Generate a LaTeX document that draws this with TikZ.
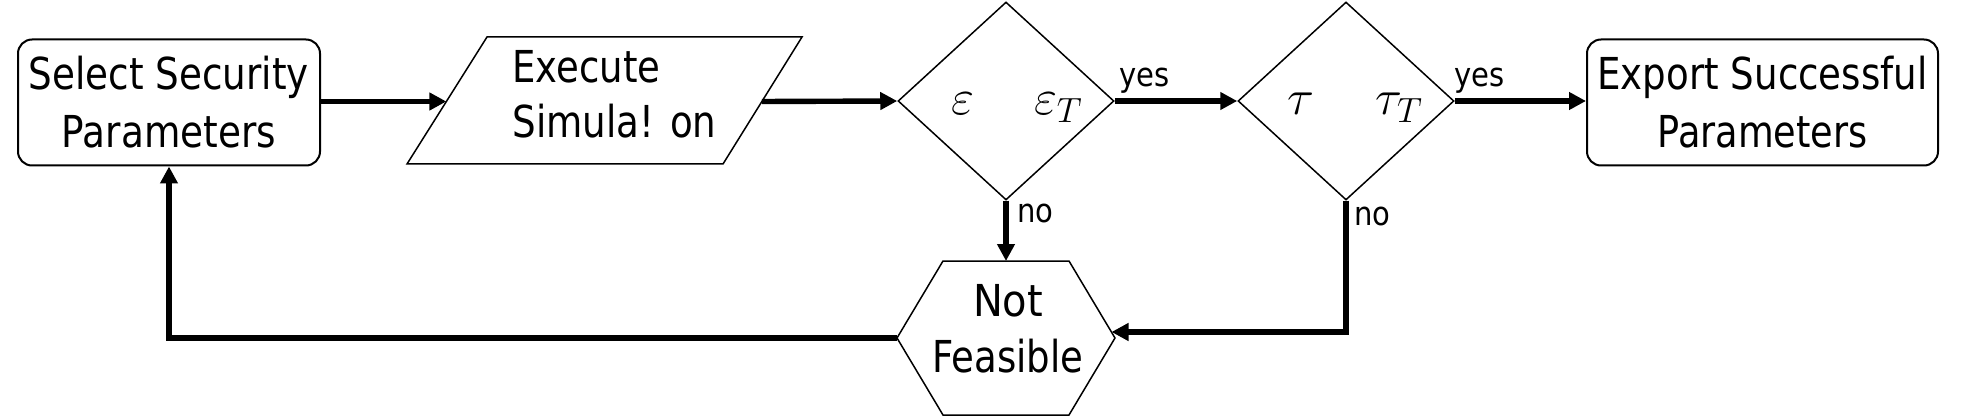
\documentclass[tikz,border=0pt]{standalone}
\usepackage{fix-cm}
\usepackage{fontspec}
\usepackage{graphicx}
\setmainfont{DejaVu Sans}[FakeStretch=0.82]
\newfontfamily\lblfont{DejaVu Sans}[FakeStretch=0.88]
\usetikzlibrary{shapes.geometric,arrows.meta}
\begin{document}
\begin{tikzpicture}[x=0.5pt,y=-0.5pt,
  box/.style={draw,rounded corners=7pt,line width=1pt,minimum width=151pt,minimum height=63pt,inner sep=0pt,align=center,font=\fontsize{22}{29}\selectfont},
  dec/.style={draw,diamond,line width=0.75pt,minimum width=108pt,minimum height=99pt,inner sep=0pt},
  flow/.style={line width=2.7pt,-{Triangle[length=8.5pt,width=8.5pt]}},
  lbl/.style={font=\lblfont\fontsize{16.5}{18}\selectfont,inner sep=0pt,anchor=base west},
  mth/.style={font=\fontsize{25}{28}\selectfont,inner sep=0pt,anchor=base},
  txt/.style={inner sep=0pt},
  outline/.style={line width=0.75pt,line join=miter}]
\useasboundingbox (0,0) rectangle (1961,417);

% start box
\node[box] (sel) at (169,102.5) {\resizebox{140pt}{\height}{Select Security}\\\resizebox{107pt}{\height}{Parameters}};

% parallelogram
\draw[outline] (487,37) -- (802,37) -- (723,164) -- (407,164) -- cycle;
\coordinate (exeL) at (446.4,101.5);
\coordinate (exeR) at (761.9,101.5);
\node[txt,anchor=west,align=left,font=\fontsize{22}{27.5}\selectfont] (exe) at (512,94.5)
  {\resizebox{74pt}{\height}{Execute}\\\resizebox{102pt}{\height}{Simula! on}};

% decisions
\node[dec] (d1) at (1006,101) {};
\node[mth] (d1t) at (1017,115) {$\varepsilon$\hspace{30pt}$\varepsilon_T$};
\node[dec] (d2) at (1346,101) {};
\node[mth] (d2t) at (1355,115) {$\tau$\hspace{31pt}$\tau_T$};

% export box
\node[box,minimum width=175.5pt] (exp) at (1762.5,102.5) {\resizebox{165pt}{\height}{Export Successful}\\\resizebox{105pt}{\height}{Parameters}};

% hexagon
\draw[outline] (943,261) -- (1069,261) -- (1115,338) -- (1069,415) -- (943,415) -- (897,338) -- cycle;
\coordinate (hexT) at (1006,261);
\coordinate (hexL) at (897,338);
\coordinate (hexR) at (1111.5,332);
\node[txt,align=center,font=\fontsize{22}{28}\selectfont] (nf) at (1008,329)
  {\resizebox{35pt}{\height}{Not}\\\resizebox{75.5pt}{\height}{Feasible}};

% connectors
\draw[flow] (sel.east |- exeL) -- (exeL);
\draw[flow] (exeR) -- (d1.west);
\draw[flow] (d1.east) -- (d2.west);
\draw[flow] (d2.east) -- (exp.west |- d2.east);
\draw[flow] (d1.south) -- (hexT);
\draw[flow] (d2.south) |- (hexR);
\draw[flow] (hexL) -| (sel.south);

% labels
\node[lbl] (y1) at (1119,87) {yes};
\node[lbl] (y2) at (1454,87) {yes};
\node[lbl] (n1) at (1017,222) {no};
\node[lbl] (n2) at (1354,226) {no};
\end{tikzpicture}
\end{document}
